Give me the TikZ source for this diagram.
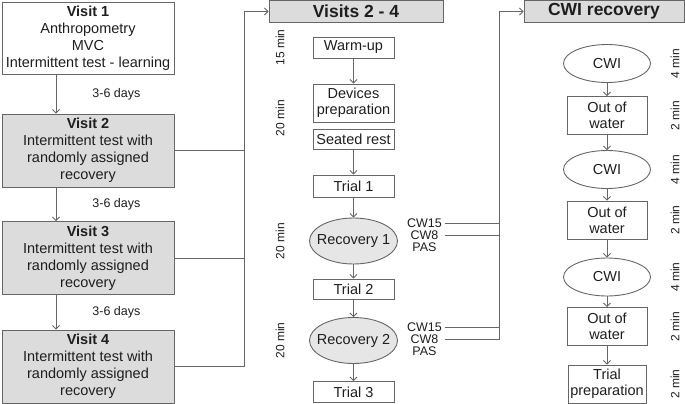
\documentclass[tikz,border=0pt]{standalone}
\usepackage{fontspec}
\setmainfont{Liberation Sans}
\definecolor{LineGray}{HTML}{666666}
\definecolor{BoxGray}{HTML}{DCDCDC}
\definecolor{OvalGray}{HTML}{E6E6E6}
\definecolor{InkDark}{HTML}{1E1E1E}
\usetikzlibrary{positioning, arrows.meta, calc, shapes.geometric}

\begin{document}
\begin{tikzpicture}[x=1pt, y=-1pt,
  every node/.style={text=InkDark},
  visitbox/.style={draw=LineGray, line width=0.9pt, minimum width=172pt,
    minimum height=73pt, align=center, inner sep=1pt,
    font=\fontsize{14.5}{17}\selectfont},
  headbox/.style={draw=LineGray, fill=BoxGray, line width=0.9pt,
    minimum height=22pt, inner sep=0pt,
    font=\fontsize{17.5}{20}\selectfont\bfseries},
  stepbox/.style={draw=LineGray, line width=0.9pt, minimum width=81pt,
    align=center, inner sep=1pt, font=\fontsize{14.5}{16}\selectfont},
  oval/.style={ellipse, draw=LineGray, line width=0.9pt, minimum width=88pt,
    minimum height=46pt, inner xsep=-6pt, inner ysep=0pt,
    font=\fontsize{14.5}{16}\selectfont},
  tlabel/.style={rotate=90, inner sep=0pt, font=\fontsize{12}{14}\selectfont},
  dayslabel/.style={inner sep=0pt, font=\fontsize{12.5}{14}\selectfont},
  cwlabel/.style={minimum width=41pt, inner sep=0pt,
    font=\fontsize{12.5}{14}\selectfont},
  link/.style={draw=LineGray, line width=0.9pt},
  arr/.style={link, -{Straight Barb[length=3.5pt, width=7pt]}}
]
  \useasboundingbox (0,0) rectangle (685,404);

  % Headers
  \node[headbox, minimum width=174pt] (hdr1) at (356,11.5) {Visits 2 - 4};
  \node[headbox, minimum width=160pt] (hdr2) at (604,11.5) {CWI recovery};

  % Visits
  \node[visitbox, minimum height=72pt] (v1) at (88,38)
    {\textbf{Visit 1}\\Anthropometry\\MVC\\Intermittent test - learning};
  \foreach \k/\y in {2/150.5, 3/258, 4/366.5}
    \node[visitbox, fill=BoxGray] (v\k) at (88,\y)
      {\textbf{Visit \k}\\Intermittent test with\\randomly assigned\\recovery};
  \foreach \a/\b in {v1/v2, v2/v3, v3/v4}
    \draw[arr] ([xshift=-32pt]\a.south) --
      node[dayslabel, right=36pt] {3-6 days} ([xshift=-32pt]\b.north);

  \coordinate (bus1) at ([xshift=-24pt]hdr1.west);
  \draw[arr] (v4.east) -| (bus1) -- (hdr1.west);
  \foreach \k in {2,3}
    \draw[link] (v\k.east) -- (v\k.east -| bus1);

  % Visits 2 - 4 protocol
  \node[stepbox, minimum height=21pt] (warm) at (353.5,47.5) {Warm-up};
  \node[stepbox, minimum height=38pt] (dev) at (353.5,103) {Devices\\preparation};
  \node[stepbox, minimum height=20pt] (rest) at (353.5,139) {Seated rest};
  \node[stepbox, minimum height=22pt] (t1) at (353.5,186) {Trial 1};
  \node[oval, fill=OvalGray] (rec1) at (353.5,241) {Recovery 1};
  \node[stepbox, minimum height=20pt] (t2) at (353.5,289) {Trial 2};
  \node[oval, fill=OvalGray] (rec2) at (353.5,340.5) {Recovery 2};
  \node[stepbox, minimum height=21pt] (t3) at (353.5,392) {Trial 3};
  \foreach \a/\b in {warm/dev, rest/t1, t1/rec1, rec1/t2, t2/rec2, rec2/t3}
    \draw[arr] (\a.south) -- (\b.north);

  \coordinate (lt) at (280,0);
  \node[tlabel] at (warm -| lt) {15 min};
  \node[tlabel] at (280,118) {20 min};
  \node[tlabel] at (rec1 -| lt) {20 min};
  \node[tlabel] at (rec2 -| lt) {20 min};

  \foreach \r/\y in {1/223, 2/327} {
    \node[cwlabel] (cwa\r) at (424.5,\y) {CW15};
    \node[cwlabel] (cwb\r) at (424.5,\y+12) {CW8};
    \node[cwlabel] (pas\r) at (424.5,\y+24) {PAS};
  }
  \coordinate (bus2) at ([xshift=-24pt]hdr2.west);
  \draw[arr] (cwb2.east) -| (bus2) -- (hdr2.west);
  \foreach \n in {cwa1, cwb1, cwa2}
    \draw[link] (\n.east) -- (\n.east -| bus2);

  % CWI recovery
  \foreach \n/\y in {1/63.5, 2/169.5, 3/277}
    \node[oval, minimum width=87pt, minimum height=38pt] (cwi\n) at (607,\y) {CWI};
  \foreach \n/\y in {1/115.5, 2/220, 3/326.5}
    \node[stepbox, minimum width=80pt, minimum height=38pt] (out\n) at (607,\y)
      {Out of\\water};
  \node[stepbox, minimum width=78pt, minimum height=38pt] (prep) at (607,384)
    {Trial\\preparation};
  \foreach \a/\b in {cwi1/out1, out1/cwi2, cwi2/out2, out2/cwi3, cwi3/out3, out3/prep}
    \draw[arr] (\a.south) -- (\b.north);

  \coordinate (rt) at (675,0);
  \foreach \n/\t in {cwi1/4, out1/2, cwi2/4, out2/2, cwi3/4, out3/2, prep/2}
    \node[tlabel] at (\n -| rt) {\t\ min};
\end{tikzpicture}
\end{document}
